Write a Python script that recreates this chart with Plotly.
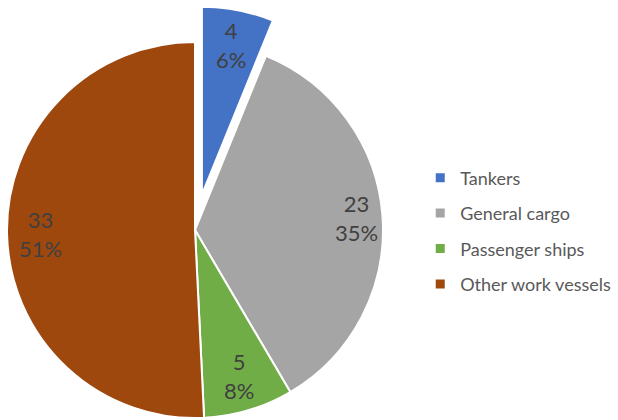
import math
import plotly.graph_objects as go

categories = ["Tankers", "General cargo", "Passenger ships", "Other work vessels"]
counts = [4, 23, 5, 33]
colors = ["#4472C4", "#A5A5A5", "#70AD47", "#9E480E"]

W, H = 618, 420
FONT = "Lato"
TXT = "#404040"

# geometry (pixels)
CX, CY, R = 195, 230, 188          # main pie centre / radius
EXPLODE = 36                        # exploded distance of first slice
LABEL_F = [0.81, 0.86, 0.81, 0.82]  # label radial positions (fraction of R)

total = sum(counts)
rest = total - counts[0]

mid0 = math.radians(counts[0] / total * 360 / 2)
ECX = CX + EXPLODE * math.sin(mid0)
ECY = CY - EXPLODE * math.cos(mid0)

def dom(cx, cy):
    return dict(x=[(cx - R) / W, (cx + R) / W], y=[1 - (cy + R) / H, 1 - (cy - R) / H])

fig = go.Figure()

fig.add_trace(go.Pie(
    labels=categories, values=counts, sort=False, direction="clockwise", rotation=0,
    marker=dict(colors=["rgba(0,0,0,0)"] + colors[1:],
                line=dict(color=["rgba(0,0,0,0)"] + ["white"] * 3, width=2)),
    textinfo="none", domain=dom(CX, CY), showlegend=False, hoverinfo="skip",
))

fig.add_trace(go.Pie(
    labels=[categories[0], "rest"], values=[counts[0], rest], sort=False,
    direction="clockwise", rotation=0,
    marker=dict(colors=[colors[0], "rgba(0,0,0,0)"],
                line=dict(color=["white", "rgba(0,0,0,0)"], width=2)),
    textinfo="none", domain=dom(ECX, ECY), showlegend=False, hoverinfo="skip",
))

cum = 0
annotations = []
for i, v in enumerate(counts):
    mid = math.radians((cum + v / 2) / total * 360)
    cum += v
    cx, cy = (ECX, ECY) if i == 0 else (CX, CY)
    px = cx + LABEL_F[i] * R * math.sin(mid)
    py = cy - LABEL_F[i] * R * math.cos(mid)
    annotations.append(dict(
        x=px / W, y=1 - py / H, xref="paper", yref="paper",
        text=f"{v}<br>{round(100 * v / total)}%", showarrow=False,
        font=dict(family=FONT, size=22, color=TXT), align="center",
        xanchor="center", yanchor="middle",
    ))

for c, col in zip(categories, colors):
    fig.add_trace(go.Scatter(
        x=[None], y=[None], mode="markers", name=c, legendgroup=c,
        marker=dict(symbol="square", size=9, color=col),
    ))

fig.update_layout(
    width=W, height=H,
    margin=dict(l=0, r=0, t=0, b=0),
    paper_bgcolor="white", plot_bgcolor="white",
    xaxis=dict(visible=False), yaxis=dict(visible=False),
    showlegend=True, annotations=annotations,
    legend=dict(x=0.68, y=0.45, xanchor="left", yanchor="middle",
                font=dict(family=FONT, size=18, color="#595959"),
                traceorder="grouped", tracegroupgap=9, itemwidth=30),
)

fig.write_html("out.html", config={"displayModeBar": False},
               post_script="document.body.style.margin='0';")
